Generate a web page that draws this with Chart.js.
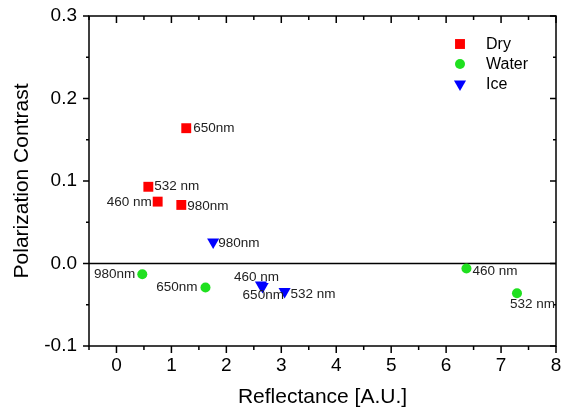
<!DOCTYPE html>
<html>
<head>
<meta charset="utf-8">
<script src="https://cdn.jsdelivr.net/npm/chart.js@4/dist/chart.umd.min.js"></script>
<style>
  html, body { margin: 0; padding: 0; background: #fff; }
</style>
</head>
<body>
<canvas id="chart" width="567" height="411"></canvas>
<script>
// Data
const dryX = [1.27, 0.58, 0.75, 1.18];
const dryY = [0.164, 0.093, 0.075, 0.071];
const dryLabels = ["650nm", "532 nm", "460 nm", "980nm"];

const waterX = [0.47, 1.62, 6.37, 7.29];
const waterY = [-0.013, -0.029, -0.006, -0.036];
const waterLabels = ["980nm", "650nm", "460 nm", "532 nm"];

const iceX = [1.76, 2.63, 2.66, 3.06];
const iceY = [0.026, -0.026, -0.028, -0.034];
const iceLabels = ["980nm", "460 nm", "650nm", "532 nm"];

const seriesNames = ["Dry", "Water", "Ice"];
const xTicks = [0, 1, 2, 3, 4, 5, 6, 7, 8];
const yTicks = [-0.1, 0.0, 0.1, 0.2, 0.3];

// where each point label sits relative to its marker: [dx, dy, align]
const labelPlacement = [
  [[7, 0, "left"], [6, 0, "left"], [-6, 1, "right"], [6, 1, "left"]],
  [[-7, 0, "right"], [-8, 0, "right"], [6, 3, "left"], [-7, 11, "left"]],
  [[5, 1, "left"], [-27, -8, "left"], [-20, 9, "left"], [6, 3, "left"]],
];

const toPoints = (xs, ys) => xs.map((x, i) => ({ x: x, y: ys[i] }));

const FONT = "Arial, 'Liberation Sans', Helvetica, sans-serif";

const framePlugin = {
  id: "frame",
  beforeDatasetsDraw(chart) {
    const { ctx, chartArea: a, scales } = chart;
    const y0 = scales.y.getPixelForValue(0);
    ctx.save();
    ctx.strokeStyle = "#000";
    ctx.lineWidth = 1.5;
    ctx.beginPath();
    ctx.moveTo(a.left, y0);
    ctx.lineTo(a.right, y0);
    ctx.stroke();
    ctx.restore();
  },
  afterDatasetsDraw(chart) {
    const { ctx, chartArea: a, scales } = chart;
    const x = scales.x, y = scales.y;
    ctx.save();
    ctx.strokeStyle = "#000";
    ctx.lineWidth = 1.5;
    ctx.strokeRect(a.left, a.top, a.right - a.left, a.bottom - a.top);

    // x ticks: bottom outward, top inward
    ctx.beginPath();
    for (let v = -0.5; v <= 8.0001; v += 0.5) {
      const px = x.getPixelForValue(v);
      const major = Math.abs(v - Math.round(v)) < 1e-6;
      const len = major ? 7 : 4;
      ctx.moveTo(px, a.bottom);
      ctx.lineTo(px, a.bottom + len);
      ctx.moveTo(px, a.top);
      ctx.lineTo(px, a.top + len);
    }
    // y ticks: left outward, right inward
    for (let v = -0.1; v <= 0.30001; v += 0.05) {
      const py = y.getPixelForValue(v);
      const major = Math.abs(v * 10 - Math.round(v * 10)) < 1e-6;
      const len = major ? 6 : 3;
      ctx.moveTo(a.left, py);
      ctx.lineTo(a.left - len, py);
      ctx.moveTo(a.right, py);
      ctx.lineTo(a.right - len, py);
    }
    ctx.stroke();

    // point labels
    const labelSets = [dryLabels, waterLabels, iceLabels];
    ctx.fillStyle = "#222";
    ctx.font = "13.5px " + FONT;
    ctx.textBaseline = "middle";
    chart.data.datasets.forEach((ds, di) => {
      const meta = chart.getDatasetMeta(di);
      meta.data.forEach((pt, i) => {
        const [dx, dy, align] = labelPlacement[di][i];
        ctx.textAlign = align;
        ctx.fillText(labelSets[di][i], pt.x + dx, pt.y + dy);
      });
    });

    // legend inside the plot
    const lx = a.left + 371, ly = a.top + 28, step = 20;
    ctx.font = "16px " + FONT;
    ctx.textAlign = "left";
    chart.data.datasets.forEach((ds, di) => {
      const cy = ly + di * step;
      ctx.fillStyle = ds.backgroundColor;
      ctx.strokeStyle = ds.backgroundColor;
      Chart.helpers.drawPoint(ctx, {
        pointStyle: ds.pointStyle,
        radius: ds.pointRadius,
        rotation: ds.rotation || 0,
        borderWidth: 0,
      }, lx, cy);
      ctx.fillStyle = "#000";
      ctx.fillText(seriesNames[di], lx + 26, cy + 1);
    });
    ctx.restore();
  },
};

new Chart(document.getElementById("chart"), {
  type: "scatter",
  data: {
    datasets: [
      {
        label: seriesNames[0],
        data: toPoints(dryX, dryY),
        pointStyle: "rect",
        pointRadius: 7,
        backgroundColor: "#ff0000",
        borderWidth: 0,
      },
      {
        label: seriesNames[1],
        data: toPoints(waterX, waterY),
        pointStyle: "circle",
        pointRadius: 5,
        backgroundColor: "#1fe01f",
        borderWidth: 0,
      },
      {
        label: seriesNames[2],
        data: toPoints(iceX, iceY),
        pointStyle: "triangle",
        pointRadius: 7,
        rotation: 180,
        backgroundColor: "#0000ff",
        borderWidth: 0,
      },
    ],
  },
  options: {
    responsive: false,
    animation: false,
    layout: { padding: { top: 16, right: 11, left: 0, bottom: 0 } },
    plugins: { legend: { display: false }, tooltip: { enabled: false } },
    scales: {
      x: {
        type: "linear",
        min: -0.5,
        max: 8,
        afterFit: (s) => { s.height = 65; s.paddingLeft = 0; s.paddingRight = 0; },
        afterBuildTicks: (s) => { s.ticks = xTicks.map((v) => ({ value: v })); },
        grid: { display: false, drawTicks: false },
        border: { display: false },
        ticks: {
          padding: 8,
          color: "#000",
          font: { size: 19, family: FONT },
          callback: (v) => String(v),
        },
        title: {
          display: true,
          text: "Reflectance [A.U.]",
          color: "#000",
          font: { size: 21, family: FONT },
          padding: { top: 0, bottom: 1 },
        },
      },
      y: {
        type: "linear",
        min: -0.1,
        max: 0.3,
        afterFit: (s) => { s.width = 89; s.paddingTop = 0; s.paddingBottom = 0; },
        afterBuildTicks: (s) => { s.ticks = yTicks.map((v) => ({ value: v })); },
        grid: { display: false, drawTicks: false },
        border: { display: false },
        ticks: {
          padding: 12,
          color: "#000",
          font: { size: 19, family: FONT },
          callback: (v) => v.toFixed(1),
        },
        title: {
          display: true,
          text: "Polarization Contrast",
          color: "#000",
          font: { size: 21, family: FONT },
          padding: { top: 10, bottom: 0 },
        },
      },
    },
  },
  plugins: [framePlugin],
});
</script>
</body>
</html>
